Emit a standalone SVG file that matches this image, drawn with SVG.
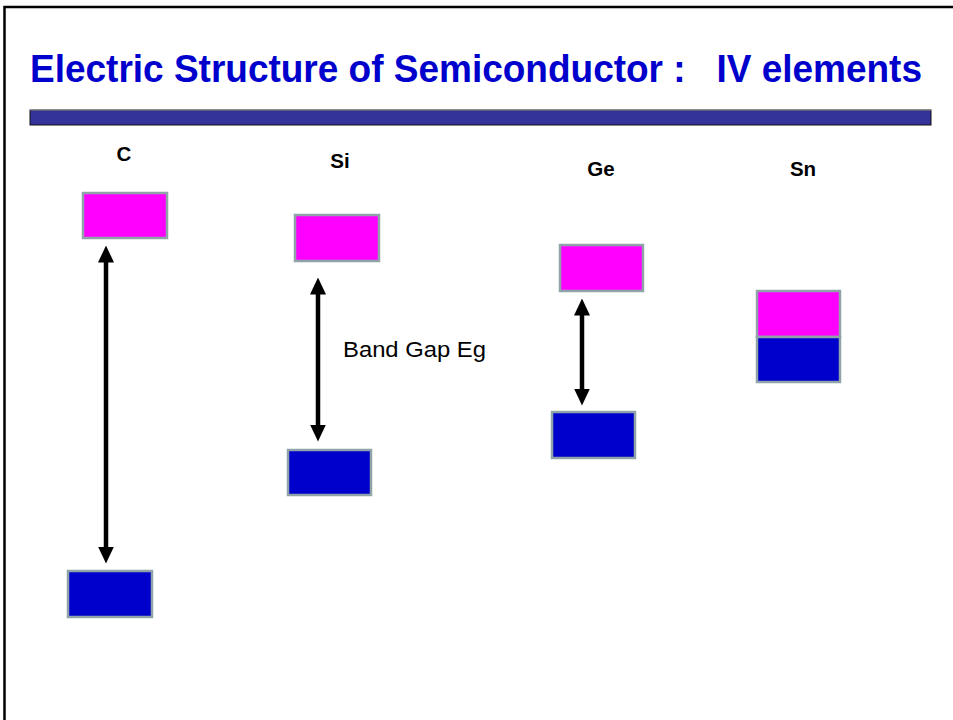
<svg xmlns="http://www.w3.org/2000/svg" width="953" height="720" viewBox="0 0 953 720">
<style>
.cb{fill:#FF00FF;stroke:#8FA3A8;stroke-width:2.5}
.vb{fill:#0000CC;stroke:#8FA3A8;stroke-width:2.5}
.lbl{font-family:"Liberation Sans",Arial,sans-serif;font-weight:bold;font-size:20.5px;fill:#000;text-anchor:middle}
.arr{stroke:#000;stroke-width:4.5;fill:none;marker-start:url(#ah);marker-end:url(#ah)}
</style>
<defs>
<marker id="ah" viewBox="0 0 17 16" refX="0.5" refY="8" markerWidth="17" markerHeight="16" orient="auto-start-reverse" markerUnits="userSpaceOnUse">
<path d="M0,0 L17,8 L0,16 Z" fill="#000"/>
</marker>
</defs>
<rect x="0" y="0" width="953" height="720" fill="#fff"/>
<rect x="4.5" y="7" width="960" height="730" fill="none" stroke="#000" stroke-width="2.5"/>
<text x="30" y="82" font-family="'Liberation Sans',Arial,sans-serif" font-weight="bold" font-size="38" fill="#0000CC" textLength="892" lengthAdjust="spacingAndGlyphs" xml:space="preserve">Electric Structure of Semiconductor :   IV elements</text>
<rect x="30" y="110" width="901" height="15" fill="#333399" stroke="#111" stroke-width="1"/>
<line x1="30" y1="110" x2="931" y2="110" stroke="#999" stroke-width="1.2"/>
<g id="connectors">
<line class="arr" x1="106" y1="262" x2="106" y2="547"/>
<line class="arr" x1="318" y1="294" x2="318" y2="425"/>
<line class="arr" x1="582" y1="315" x2="582" y2="389"/>
</g>
<g id="C">
<text class="lbl" x="124" y="161">C</text>
<rect class="cb" x="83" y="193" width="84" height="45"/>
<rect class="vb" x="68" y="571" width="84" height="46"/>
</g>
<g id="Si">
<text class="lbl" x="340" y="168">Si</text>
<rect class="cb" x="295" y="215" width="84" height="46"/>
<rect class="vb" x="288" y="450" width="83" height="45"/>
</g>
<g id="Ge">
<text class="lbl" x="601" y="176">Ge</text>
<rect class="cb" x="560" y="245" width="83" height="46"/>
<rect class="vb" x="552" y="412" width="83" height="46"/>
</g>
<g id="Sn">
<text class="lbl" x="803" y="176">Sn</text>
<rect class="cb" x="757" y="291" width="83" height="46"/>
<rect class="vb" x="757" y="337" width="83" height="45"/>
</g>
<g id="bandgap">
<text x="343" y="357" font-family="'Liberation Sans',Arial,sans-serif" font-size="22" fill="#000" textLength="143" lengthAdjust="spacingAndGlyphs">Band Gap Eg</text>
</g>
</svg>
